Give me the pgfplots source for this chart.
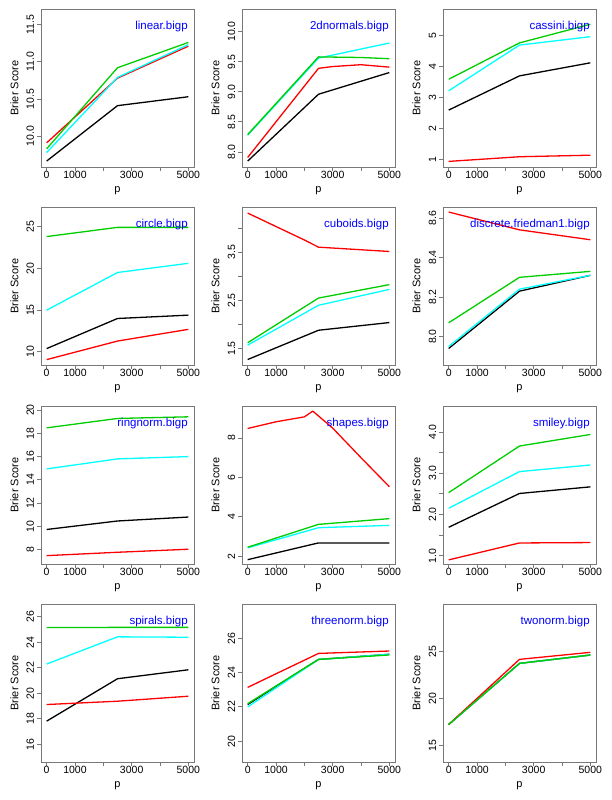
\documentclass[border=0pt]{standalone}
\usepackage{fontspec}
\setmainfont{Liberation Sans}
\usepackage{pgfplots}
\pgfplotsset{compat=1.18}
\definecolor{boxgray}{RGB}{120,120,120}
\definecolor{rgreen}{RGB}{0,205,0}
\definecolor{rcyan}{RGB}{0,255,255}
\definecolor{rred}{RGB}{255,0,0}
\definecolor{rblue}{RGB}{0,0,255}
\tikzset{ptitle/.style={anchor=north east, text=rblue, inner sep=0pt, font=\fontsize{11.5bp}{13bp}\selectfont}}
\pgfplotsset{rpanel/.style={
  scale only axis, width=153bp, height=158bp,
  xmin=-200, xmax=5200,
  axis line style={draw=boxgray, line width=0.9bp},
  tick style={draw=boxgray, line width=0.9bp},
  tick align=outside, major tick length=4bp,
  xtick pos=left, ytick pos=left,
  xtick={0,1000,2000,3000,4000,5000},
  xticklabels={0,1000,,3000,,5000},
  xticklabel style={font=\fontsize{10.5bp}{12bp}\selectfont, anchor=north, inner sep=0pt},
  yticklabel style={font=\fontsize{10.5bp}{12bp}\selectfont, rotate=90, anchor=base, inner sep=0pt},
  yticklabel shift=3bp,
  xlabel={p}, ylabel={Brier Score},
  xlabel style={font=\fontsize{11bp}{13bp}\selectfont, at={(axis description cs:0.5,-0.16)}, anchor=base, inner sep=0pt},
  ylabel style={font=\fontsize{11bp}{13bp}\selectfont, at={(axis description cs:-0.148,0.5)}, anchor=base, inner sep=0pt},
  every axis plot/.append style={line width=1.3bp, line join=round, mark=none},
  anchor=north west,
}}
\begin{document}
\begin{tikzpicture}
\useasboundingbox (0,0) rectangle (612bp,-800bp);
% Row 1
\begin{axis}[rpanel, at={(41bp,-9bp)}, ymin=9.585, ymax=11.71,
  ytick={10,10.5,11,11.5}, yticklabels={10.0,10.5,11.0,11.5}]
\addplot[black] coordinates {(0,9.665)(2500,10.41)(5000,10.53)};
\addplot[rred] coordinates {(0,9.91)(2500,10.78)(5000,11.21)};
\addplot[rcyan] coordinates {(0,9.78)(2500,10.79)(5000,11.23)};
\addplot[rgreen] coordinates {(0,9.83)(2500,10.92)(5000,11.26)};
\node[ptitle] at (rel axis cs:0.96,0.927) {linear.bigp};
\end{axis}
\begin{axis}[rpanel, at={(242bp,-9bp)}, ymin=7.752, ymax=10.375,
  ytick={8,8.5,9,9.5,10}, yticklabels={8.0,8.5,9.0,9.5,10.0}]
\addplot[black] coordinates {(0,7.85)(2500,8.96)(5000,9.32)};
\addplot[rred] coordinates {(0,7.91)(2500,9.39)(3000,9.42)(4000,9.45)(5000,9.41)};
\addplot[rcyan] coordinates {(0,8.28)(2500,9.56)(5000,9.81)};
\addplot[rgreen] coordinates {(0,8.29)(2500,9.58)(4000,9.57)(5000,9.55)};
\node[ptitle] at (rel axis cs:0.96,0.927) {2dnormals.bigp};
\end{axis}
\begin{axis}[rpanel, at={(443bp,-9bp)}, ymin=0.76, ymax=5.84,
  ytick={1,2,3,4,5}, yticklabels={1,2,3,4,5}]
\addplot[black] coordinates {(0,2.59)(2500,3.69)(5000,4.11)};
\addplot[rred] coordinates {(0,0.94)(2500,1.09)(5000,1.14)};
\addplot[rcyan] coordinates {(0,3.21)(2500,4.68)(5000,4.95)};
\addplot[rgreen] coordinates {(0,3.58)(2500,4.75)(5000,5.35)};
\node[ptitle] at (rel axis cs:0.96,0.927) {cassini.bigp};
\end{axis}
% Row 2
\begin{axis}[rpanel, at={(41bp,-207.3bp)}, ymin=8.4, ymax=27.3,
  ytick={10,15,20,25}, yticklabels={10,15,20,25}]
\addplot[black] coordinates {(0,10.4)(2500,14.0)(5000,14.4)};
\addplot[rred] coordinates {(0,9.08)(2500,11.3)(5000,12.7)};
\addplot[rcyan] coordinates {(0,15.0)(2500,19.5)(5000,20.6)};
\addplot[rgreen] coordinates {(0,23.8)(2500,24.9)(5000,24.9)};
\node[ptitle] at (rel axis cs:0.96,0.927) {circle.bigp};
\end{axis}
\begin{axis}[rpanel, at={(242bp,-207.3bp)}, ymin=1.15, ymax=4.44,
  ytick={1.5,2,2.5,3,3.5,4}, yticklabels={1.5,,2.5,,3.5,}]
\addplot[black] coordinates {(0,1.27)(2500,1.88)(5000,2.04)};
\addplot[rred] coordinates {(0,4.32)(2000,3.76)(2500,3.61)(5000,3.52)};
\addplot[rcyan] coordinates {(0,1.57)(2500,2.40)(5000,2.73)};
\addplot[rgreen] coordinates {(0,1.62)(2500,2.55)(5000,2.83)};
\node[ptitle] at (rel axis cs:0.96,0.927) {cuboids.bigp};
\end{axis}
\begin{axis}[rpanel, at={(443bp,-207.3bp)}, ymin=7.855, ymax=8.654,
  ytick={8.0,8.2,8.4,8.6}, yticklabels={8.0,8.2,8.4,8.6}]
\addplot[black] coordinates {(0,7.94)(2500,8.23)(5000,8.31)};
\addplot[rcyan] coordinates {(0,7.95)(2500,8.24)(5000,8.31)};
\addplot[rred] coordinates {(0,8.63)(2500,8.54)(5000,8.49)};
\addplot[rgreen] coordinates {(0,8.07)(2500,8.30)(5000,8.33)};
\node[ptitle] at (rel axis cs:0.96,0.927) {discrete.friedman1.bigp};
\end{axis}
% Row 3
\begin{axis}[rpanel, at={(41bp,-406bp)}, ymin=6.76, ymax=20.35,
  ytick={8,10,12,14,16,18,20}, yticklabels={8,10,12,14,16,18,20}]
\addplot[black] coordinates {(0,9.73)(2500,10.46)(5000,10.80)};
\addplot[rred] coordinates {(0,7.48)(2500,7.77)(5000,8.03)};
\addplot[rcyan] coordinates {(0,14.94)(2500,15.8)(5000,16.0)};
\addplot[rgreen] coordinates {(0,18.47)(2500,19.28)(5000,19.42)};
\node[ptitle] at (rel axis cs:0.96,0.927) {ringnorm.bigp};
\end{axis}
\begin{axis}[rpanel, at={(242bp,-406bp)}, ymin=1.61, ymax=9.62,
  ytick={2,4,6,8}, yticklabels={2,4,6,8}]
\addplot[black] coordinates {(0,1.83)(2500,2.68)(5000,2.68)};
\addplot[rred] coordinates {(0,8.48)(1000,8.82)(2000,9.07)(2300,9.36)(3000,8.5)(4000,7.0)(5000,5.53)};
\addplot[rcyan] coordinates {(0,2.43)(2500,3.45)(5000,3.57)};
\addplot[rgreen] coordinates {(0,2.46)(2500,3.62)(5000,3.91)};
\node[ptitle] at (rel axis cs:0.96,0.927) {shapes.bigp};
\end{axis}
\begin{axis}[rpanel, at={(443bp,-406bp)}, ymin=0.80, ymax=4.63,
  ytick={1,1.5,2,2.5,3,3.5,4}, yticklabels={1.0,,2.0,,3.0,,4.0}]
\addplot[black] coordinates {(0,1.69)(2500,2.51)(5000,2.67)};
\addplot[rred] coordinates {(0,0.90)(2500,1.31)(5000,1.32)};
\addplot[rcyan] coordinates {(0,2.15)(2500,3.04)(5000,3.20)};
\addplot[rgreen] coordinates {(0,2.53)(2500,3.66)(5000,3.94)};
\node[ptitle] at (rel axis cs:0.96,0.927) {smiley.bigp};
\end{axis}
% Row 4
\begin{axis}[rpanel, at={(41bp,-604bp)}, ymin=14.62, ymax=26.99,
  ytick={16,18,20,22,24,26}, yticklabels={16,18,20,22,24,26}]
\addplot[black] coordinates {(0,17.82)(2500,21.14)(5000,21.84)};
\addplot[rred] coordinates {(0,19.12)(2500,19.38)(5000,19.77)};
\addplot[rcyan] coordinates {(0,22.29)(2500,24.42)(5000,24.39)};
\addplot[rgreen] coordinates {(0,25.15)(2500,25.16)(5000,25.16)};
\node[ptitle] at (rel axis cs:0.96,0.927) {spirals.bigp};
\end{axis}
\begin{axis}[rpanel, at={(242bp,-604bp)}, ymin=18.79, ymax=28.0,
  ytick={20,22,24,26}, yticklabels={20,22,24,26}]
\addplot[black] coordinates {(0,22.14)(2500,24.77)(5000,25.07)};
\addplot[rred] coordinates {(0,23.14)(2500,25.12)(5000,25.26)};
\addplot[rcyan] coordinates {(0,22.0)(2500,24.77)(5000,25.07)};
\addplot[rgreen] coordinates {(0,22.19)(2500,24.77)(5000,25.03)};
\node[ptitle] at (rel axis cs:0.96,0.927) {threenorm.bigp};
\end{axis}
\begin{axis}[rpanel, at={(443bp,-604bp)}, ymin=13.2, ymax=30.1,
  ytick={15,20,25}, yticklabels={15,20,25}]
\addplot[black] coordinates {(0,17.21)(2500,23.75)(5000,24.64)};
\addplot[rcyan] coordinates {(0,17.21)(2500,23.75)(5000,24.64)};
\addplot[rred] coordinates {(0,17.21)(2500,24.18)(5000,24.93)};
\addplot[rgreen] coordinates {(0,17.21)(2500,23.75)(5000,24.64)};
\node[ptitle] at (rel axis cs:0.96,0.927) {twonorm.bigp};
\end{axis}
\end{tikzpicture}
\end{document}
